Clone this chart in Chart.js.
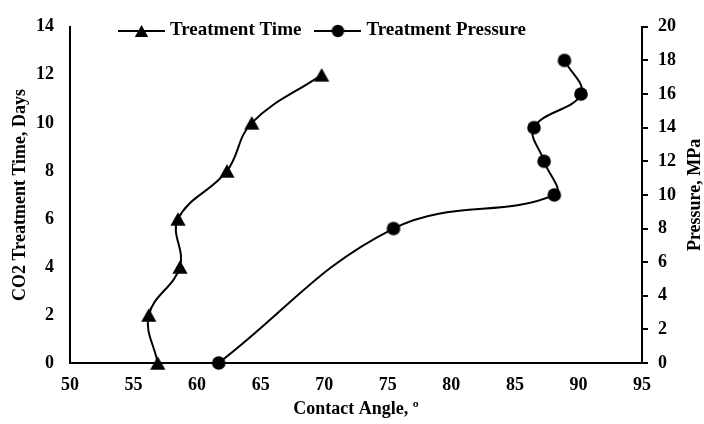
<!DOCTYPE html>
<html>
<head>
<meta charset="utf-8">
<script src="https://cdn.jsdelivr.net/npm/chart.js@4/dist/chart.umd.min.js"></script>
<style>
  html, body { margin: 0; padding: 0; background: #fff; }
  #wrap { width: 704px; height: 424px; position: relative; }
</style>
</head>
<body>
<div id="wrap"><canvas id="c"></canvas></div>
<script>
// ---- Data ----
const timeLabel = 'Treatment Time';
const timeAngles = [56.9, 56.2, 58.65, 58.5, 62.35, 64.3, 69.8];   // contact angle (deg)
const timeDays   = [0, 2, 4, 6, 8, 10, 12];                        // CO2 treatment time (days)

const pressureLabel = 'Treatment Pressure';
const pressureAngles = [61.7, 75.45, 88.1, 87.3, 86.5, 90.2, 88.9]; // contact angle (deg)
const pressureMPa    = [0, 8, 10, 12, 14, 16, 18];                  // pressure (MPa)

const xTitle = 'Contact Angle, º';
const yLeftTitle = 'CO2 Treatment Time, Days';
const yRightTitle = 'Pressure, MPa';

// ---- marker images ----
function markerCanvas(kind, lineLen, small) {
  const w = lineLen || 18, h = 18;
  const c = document.createElement('canvas');
  c.width = w; c.height = h;
  const g = c.getContext('2d');
  const cx = w / 2, cy = h / 2;
  if (lineLen) {
    g.strokeStyle = '#000'; g.lineWidth = 2;
    g.beginPath(); g.moveTo(0, cy); g.lineTo(w, cy); g.stroke();
  }
  g.fillStyle = '#000';
  g.beginPath();
  if (kind === 'triangle') {
    const hw = small ? 6.7 : 7.6, hh = small ? 6 : 6.7;
    g.moveTo(cx, cy - hh); g.lineTo(cx + hw, cy + hh); g.lineTo(cx - hw, cy + hh); g.closePath();
  } else {
    g.arc(cx, cy, small ? 6.2 : 6.8, 0, Math.PI * 2);
  }
  g.fill();
  return c;
}
const triImg = markerCanvas('triangle');
const dotImg = markerCanvas('circle');
const triLegend = markerCanvas('triangle', 47, true);
const dotLegend = markerCanvas('circle', 47, true);

const FONT = '"Liberation Serif", "Times New Roman", serif';
Chart.defaults.font.family = FONT;
Chart.defaults.font.weight = 'bold';
Chart.defaults.font.size = 18;
Chart.defaults.color = '#000';

// legend drawn inside the plot area (line + marker symbol, then label)
const insideLegend = {
  id: 'insideLegend',
  afterDraw(chart) {
    const ctx = chart.ctx;
    const imgs = [triLegend, dotLegend];
    let x = 118;
    const y = 30.5;
    ctx.save();
    ctx.font = 'bold 19px ' + FONT;
    ctx.fillStyle = '#000';
    ctx.textAlign = 'left';
    ctx.textBaseline = 'middle';
    chart.data.datasets.forEach((ds, i) => {
      const img = imgs[i];
      ctx.drawImage(img, x, Math.round(y - img.height / 2));
      x += img.width + 5;
      ctx.fillText(ds.label, x, y);
      x += ctx.measureText(ds.label).width + 13;
    });
    ctx.restore();
  }
};
const rightTitle = {
  id: 'rightTitle',
  afterDraw(chart) {
    const ctx = chart.ctx, a = chart.chartArea;
    ctx.save();
    ctx.translate(695, (a.top + a.bottom) / 2);
    ctx.rotate(-Math.PI / 2);
    ctx.font = 'bold 18px ' + FONT;
    ctx.fillStyle = '#000';
    ctx.textAlign = 'center';
    ctx.textBaseline = 'middle';
    ctx.fillText(yRightTitle, 0, 0);
    ctx.restore();
  }
};

new Chart(document.getElementById('c'), {
  type: 'scatter',
  data: {
    datasets: [
      {
        label: timeLabel,
        data: timeAngles.map((x, i) => ({ x: x, y: timeDays[i] })),
        yAxisID: 'y',
        showLine: true,
        tension: 0.4,
        borderColor: '#000',
        backgroundColor: '#000',
        borderWidth: 2,
        pointStyle: triImg,
        pointRadius: 7,
        clip: false
      },
      {
        label: pressureLabel,
        data: pressureAngles.map((x, i) => ({ x: x, y: pressureMPa[i] })),
        yAxisID: 'y2',
        showLine: true,
        tension: 0.4,
        borderColor: '#000',
        backgroundColor: '#000',
        borderWidth: 2,
        pointStyle: dotImg,
        pointRadius: 7,
        clip: false
      }
    ]
  },
  options: {
    responsive: true,
    maintainAspectRatio: false,
    animation: false,
    events: [],
    layout: { padding: { top: 18, left: 0, right: 0, bottom: 0 } },
    elements: { line: { capBezierPoints: false } },
    plugins: {
      tooltip: { enabled: false },
      legend: { display: false }
    },
    scales: {
      x: {
        type: 'linear',
        min: 50, max: 95,
        ticks: { stepSize: 5, padding: 12, color: '#000' },
        grid: { display: false, drawTicks: false },
        border: { display: true, color: '#000', width: 2 },
        title: { display: true, text: xTitle, color: '#000', font: { size: 18, weight: 'bold' }, padding: { top: 0, bottom: 4 } },
        afterFit(s) { s.height = 61; }
      },
      y: {
        type: 'linear',
        position: 'left',
        min: 0, max: 14,
        ticks: { stepSize: 2, padding: 16, color: '#000' },
        grid: { display: false, drawTicks: false },
        border: { display: true, color: '#000', width: 2 },
        title: { display: true, text: yLeftTitle, color: '#000', font: { size: 18, weight: 'bold' }, padding: { top: 10, bottom: 0 } },
        afterFit(s) { s.width = 70; }
      },
      y2: {
        type: 'linear',
        position: 'right',
        min: 0, max: 20,
        ticks: { stepSize: 2, padding: 10, color: '#000' },
        grid: { display: true, drawOnChartArea: false, drawTicks: true, tickLength: 6, color: '#000', lineWidth: 2 },
        border: { display: true, color: '#000', width: 2 },
        afterFit(s) { s.width = 62; }
      }
    }
  },
  plugins: [insideLegend, rightTitle]
});
</script>
</body>
</html>
